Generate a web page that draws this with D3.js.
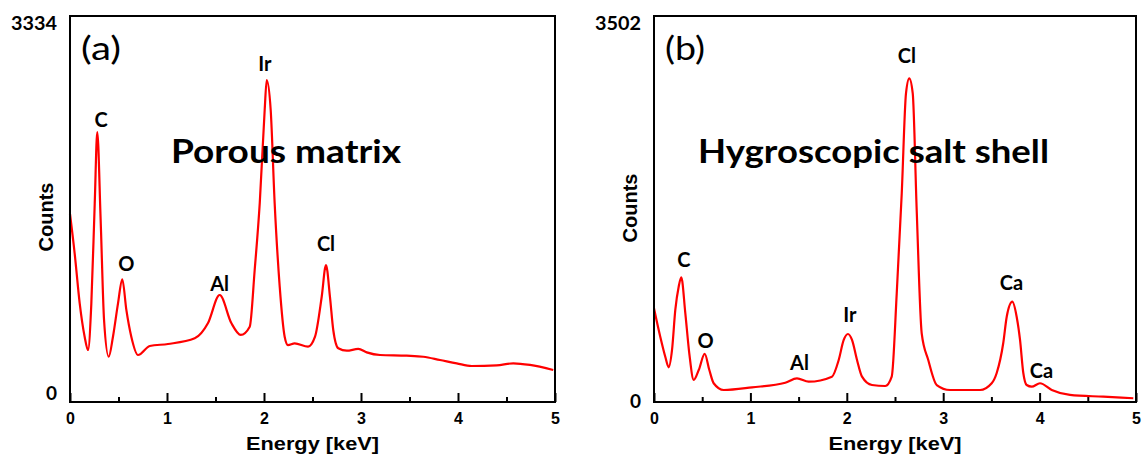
<!DOCTYPE html>
<html>
<head>
<meta charset="utf-8">
<script src="https://cdn.jsdelivr.net/npm/d3@7"></script>
<style>
  body { margin: 0; background: #fff; }
  svg { display: block; }
  .tick text { font-family: "Liberation Sans", Arial, sans-serif; font-weight: bold; font-size: 16px; fill: #000; }
  .tick line { stroke: #000; stroke-width: 2px; }
  .axis-title { font-family: "Liberation Sans", Arial, sans-serif; font-weight: bold; fill: #000; }
  .calibri { font-family: Lato, "Open Sans", sans-serif; fill: #000; }
</style>
</head>
<body>
<svg id="chart" width="1142" height="460"></svg>
<script>
// values: energy in keV, counts
const energyA = [0, 0.048, 0.100, 0.151, 0.186, 0.220, 0.255, 0.281, 0.316, 0.351, 0.399, 0.443, 0.495, 0.539, 0.581, 0.632, 0.701,
  0.822, 1.010, 1.286, 1.423, 1.543, 1.663, 1.760, 1.853, 1.904, 1.956, 2.007, 2.028, 2.069, 2.110, 2.162, 2.213, 2.247,
  2.316, 2.454, 2.526, 2.595, 2.639, 2.680, 2.714, 2.766, 2.853, 2.972, 3.059, 3.196, 3.471, 3.642, 3.814, 3.987, 4.141,
  4.399, 4.570, 4.742, 4.982];
const countsA = [1624, 1284, 852, 564, 449, 852, 1716, 2332, 1572, 708, 391, 564, 852, 1060, 795, 564, 406,
  484, 501, 550, 682, 924, 682, 579, 650, 1140, 1716, 2522, 2781, 2522, 1716, 996, 564, 492,
  507, 478, 564, 909, 1183, 909, 622, 464, 443, 458, 429, 406, 400, 391, 363, 334, 311,
  317, 334, 320, 276];

const energyB = [0, 0.065, 0.117, 0.152, 0.187, 0.221, 0.256, 0.283, 0.325, 0.366, 0.412, 0.464, 0.526, 0.574, 0.619, 0.723,
  1.017, 1.362, 1.483, 1.605, 1.846, 1.916, 1.968, 2.012, 2.054, 2.106, 2.158, 2.261, 2.399, 2.466, 2.518, 2.570, 2.614,
  2.648, 2.684, 2.725, 2.777, 2.845, 2.933, 3.071, 3.382, 3.503, 3.555, 3.623, 3.659, 3.717, 3.762, 3.797, 3.831, 3.866,
  3.918, 4.004, 4.126, 4.315, 4.661, 4.972];
const countsB = [850, 592, 411, 315, 472, 835, 1046, 1131, 805, 442, 200, 290, 436, 290, 170, 109,
  133, 175, 215, 184, 230, 381, 563, 617, 563, 381, 230, 154, 145, 230, 986, 1894, 2801,
  2937, 2801, 1742, 623, 381, 154, 109, 109, 170, 263, 535, 774, 910, 774, 563, 263, 154,
  139, 170, 109, 64, 48, 34];

const peakNamesA = ["C", "O", "Al", "Ir", "Cl"];
const peakEnergyA = [0.320, 0.580, 1.543, 2.010, 2.639];
const peakCountA = [2375, 1131, 959, 2855, 1300];

const peakNamesB = ["C", "O", "Al", "Ir", "Cl", "Ca", "Ca"];
const peakEnergyB = [0.311, 0.534, 1.509, 2.033, 2.624, 3.709, 4.019];
const peakCountB = [1229, 490, 290, 730, 3076, 1016, 218];

const xTicks = [0, 1, 2, 3, 4, 5];
const xMinorTicks = [0.5, 1.5, 2.5, 3.5, 4.5];
const yMaxA = 3334, yMaxB = 3502;

const panels = [
  { left: 70, right: 555, letter: "(a)", title: "Porous matrix", titleX: 171, titleLen: 230,
    energy: energyA, counts: countsA, yMax: yMaxA, names: peakNamesA, pe: peakEnergyA, pc: peakCountA,
    zeroDy: -2, countsY: 217 },
  { left: 654, right: 1136, letter: "(b)", title: "Hygroscopic salt shell", titleX: 698, titleLen: 351,
    energy: energyB, counts: countsB, yMax: yMaxB, names: peakNamesB, pe: peakEnergyB, pc: peakCountB,
    zeroDy: 6, countsY: 208 }
];

const svg = d3.select("#chart");
const plotTop = 16, plotBottom = 402;

panels.forEach(p => {
  const x = d3.scaleLinear().domain([0, 5]).range([p.left, p.right]);
  const y = d3.scaleLinear().domain([0, p.yMax]).range([plotBottom, plotTop]);
  const g = svg.append("g");

  // minor ticks
  g.append("g").attr("transform", `translate(0,${plotBottom})`)
    .call(d3.axisBottom(x).tickValues(xMinorTicks).tickSize(-5).tickFormat(""))
    .call(a => a.select(".domain").remove());

  // major ticks + labels
  g.append("g").attr("transform", `translate(0,${plotBottom})`)
    .call(d3.axisBottom(x).tickValues(xTicks).tickSize(-9).tickPadding(11).tickFormat(d3.format("d")))
    .call(a => a.select(".domain").remove());

  // spectrum
  const pts = p.energy.map((e, i) => [e, p.counts[i]]);
  g.append("path")
    .datum(pts)
    .attr("fill", "none")
    .attr("stroke", "#ff0000")
    .attr("stroke-width", 2.2)
    .attr("stroke-linejoin", "round")
    .attr("d", d3.line().x(d => x(d[0])).y(d => y(d[1])).curve(d3.curveMonotoneX));

  // frame
  g.append("rect")
    .attr("x", x(0)).attr("y", y(p.yMax))
    .attr("width", x(5) - x(0)).attr("height", y(0) - y(p.yMax))
    .attr("fill", "none").attr("stroke", "#000").attr("stroke-width", 2);

  // y labels
  g.append("text").attr("class", "calibri")
    .attr("x", x(0) - 13).attr("y", y(p.yMax)).attr("dy", 14)
    .attr("text-anchor", "end").style("font-weight", "bold").style("font-size", "19px")
    .attr("textLength", 46).attr("lengthAdjust", "spacingAndGlyphs")
    .text(p.yMax);
  g.append("text").attr("class", "calibri")
    .attr("x", x(0) - 13).attr("y", y(0)).attr("dy", p.zeroDy)
    .attr("text-anchor", "end").style("font-weight", "bold").style("font-size", "19px")
    .text("0");

  // axis titles
  g.append("text").attr("class", "axis-title")
    .attr("x", (x(0) + x(5)) / 2).attr("y", plotBottom + 48)
    .attr("text-anchor", "middle").style("font-size", "18.5px")
    .attr("textLength", 133).attr("lengthAdjust", "spacingAndGlyphs")
    .text("Energy [keV]");
  g.append("text").attr("class", "axis-title")
    .attr("transform", `translate(${x(0) - 17},${p.countsY}) rotate(-90)`)
    .attr("text-anchor", "middle").style("font-size", "20px")
    .text("Counts");

  // panel letter and title
  g.append("text").attr("class", "calibri")
    .attr("x", x(0) + 11).attr("y", 60)
    .style("font-size", "32px")
    .attr("textLength", 40).attr("lengthAdjust", "spacingAndGlyphs")
    .text(p.letter);
  g.append("text").attr("class", "calibri")
    .attr("x", p.titleX).attr("y", 163)
    .style("font-size", "32px").style("font-weight", "bold")
    .attr("textLength", p.titleLen).attr("lengthAdjust", "spacingAndGlyphs")
    .text(p.title);

  // peak labels
  g.selectAll(".peak")
    .data(p.names)
    .enter().append("text")
    .attr("class", "calibri peak")
    .attr("x", (d, i) => x(p.pe[i]))
    .attr("y", (d, i) => y(p.pc[i]))
    .attr("text-anchor", "middle")
    .style("font-size", "20px").style("font-weight", "bold")
    .text(d => d);
});
</script>
</body>
</html>
